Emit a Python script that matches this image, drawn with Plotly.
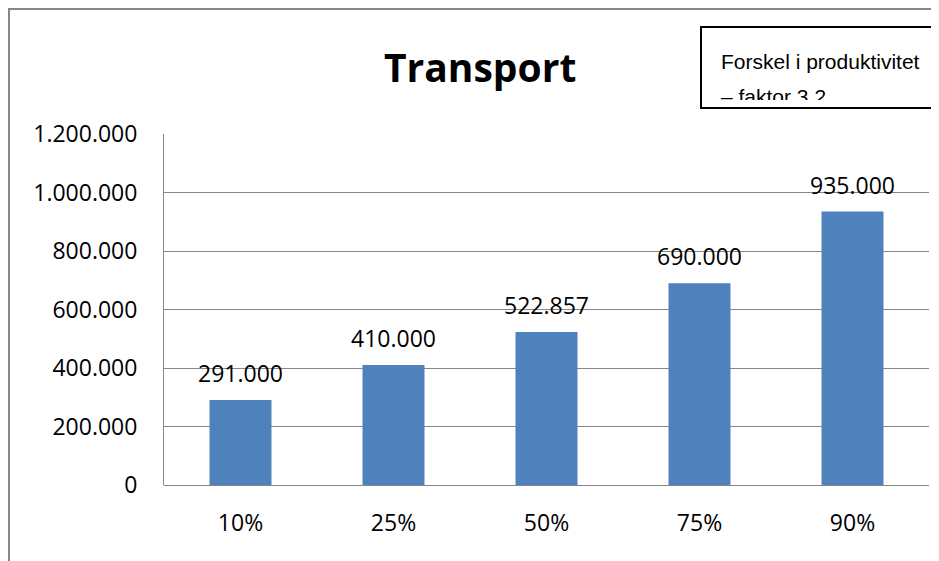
import plotly.graph_objects as go

categories = ["10%", "25%", "50%", "75%", "90%"]
values = [291000, 410000, 522857, 690000, 935000]
tick_vals = [0, 200000, 400000, 600000, 800000, 1000000, 1200000]
title_text = "Transport"
box_lines = ["Forskel i produktivitet", "– faktor 3.2"]

# page pixel -> paper coords (plot area spans x 164..929, y 485..134 on page)
def px(x):
    return (x - 164) / 765

def py(y):
    return (485 - y) / 351

FONT = "Open Sans, Lato, sans-serif"
ARIAL = "Liberation Sans, Arial, sans-serif"

fig = go.Figure()
fig.add_trace(go.Bar(
    x=categories, y=values, width=0.405,
    marker=dict(color="#4F81BD", line=dict(width=0)),
    hoverinfo="skip",
))

anns = []
for c, v in zip(categories, values):
    anns.append(dict(
        x=c, y=v, xref="x", yref="y", text=f"{v:,}".replace(",", "."),
        showarrow=False, yanchor="middle", yshift=27,
        font=dict(family=FONT, size=23, color="#000000"),
    ))

anns += [
    dict(x=px(480), y=py(67), xref="paper", yref="paper",
         text=f"<b>{title_text}</b>", showarrow=False,
         xanchor="center", yanchor="middle",
         font=dict(family=FONT, size=39, color="#000000")),
    dict(x=px(719), y=py(61), xref="paper", yref="paper",
         text=box_lines[0], showarrow=False, xanchor="left", yanchor="middle",
         font=dict(family=ARIAL, size=21, color="#000000")),
    dict(x=px(719), y=py(96), xref="paper", yref="paper",
         text=box_lines[1], showarrow=False, xanchor="left", yanchor="middle",
         font=dict(family=ARIAL, size=21, color="#000000")),
    # white strip clipping the text inside the box, as in the reference
    dict(x=px(702), y=py(100), xref="paper", yref="paper",
         text=" ", showarrow=False, xanchor="left", yanchor="top",
         width=250, height=7, bgcolor="#FFFFFF", borderpad=0, borderwidth=0,
         font=dict(size=4)),
]

tick_font = dict(family=FONT, size=23, color="#000000")

fig.update_layout(
    width=931, height=553,
    margin=dict(l=156, r=10, t=126, b=76),
    paper_bgcolor="white", plot_bgcolor="white",
    separators=",.",
    showlegend=False,
    xaxis=dict(
        type="category", showgrid=False, showline=False, ticks="",
        tickfont=tick_font, ticklabelstandoff=22,
    ),
    yaxis=dict(
        range=[0, 1200000], tickvals=tick_vals, tickformat=",d",
        showgrid=True, gridcolor="#868686", gridwidth=1,
        zeroline=True, zerolinecolor="#868686", zerolinewidth=1,
        showline=True, linecolor="#868686", linewidth=1,
        ticks="", tickfont=tick_font, ticklabelstandoff=21,
    ),
    annotations=anns,
    shapes=[
        dict(type="rect", xref="paper", yref="paper",
             x0=px(9), x1=px(960), y0=py(600), y1=py(9),
             line=dict(color="#868686", width=2), fillcolor="rgba(0,0,0,0)", layer="below"),
        dict(type="rect", xref="paper", yref="paper",
             x0=px(701), x1=px(960), y0=py(108), y1=py(27),
             line=dict(color="#000000", width=2), fillcolor="rgba(0,0,0,0)", layer="above"),
    ],
)

fig.write_html("out.html")
